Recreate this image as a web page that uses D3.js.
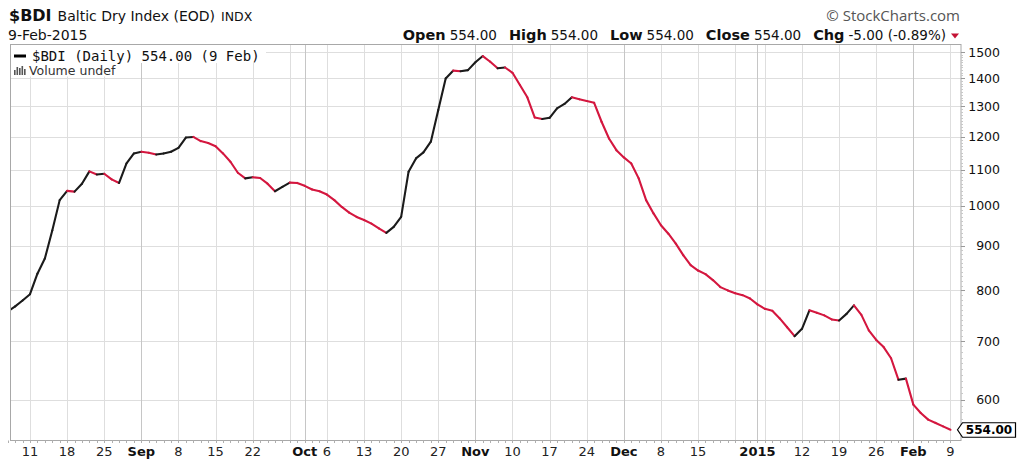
<!DOCTYPE html>
<html><head><meta charset="utf-8">
<script src="https://cdn.jsdelivr.net/npm/d3@7"></script>
<style>body{margin:0;background:#fff}svg{display:block}</style>
</head><body>
<svg id="c" width="1024" height="472"></svg>
<script>
// ---- data ----
const startDate = "2014-08-06";
const endDate = "2015-02-09";
const closedDays = ["2014-12-25","2014-12-26","2014-12-29","2014-12-30","2014-12-31","2015-01-01"];
const closes = [
 757,767,779,792,836,870,937,1015,1040,1038,
 1060,1095,1086,1088,1072,1062,1118,1148,1153,1150,
 1145,1148,1153,1165,1197,1199,1186,1180,1170,1148,
 1123,1091,1075,1078,1076,1060,1039,1051,1063,1062,
 1054,1044,1039,1030,1015,997,982,971,963,954,
 942,931,946,971,1094,1133,1151,1184,1287,1399,
 1428,1426,1430,1460,1484,1462,1437,1440,1420,1375,
 1331,1262,1257,1261,1293,1308,1331,1324,1318,1312,
 1248,1194,1158,1136,1118,1075,1015,980,950,929,
 905,878,855,843,835,822,807,800,794,790,
 783,771,762,758,743,726,709,723,759,754,
 749,741,739,752,769,750,720,702,689,669,
 632,634,592,579,569,564,559,554
];
const yTicks = [600,700,800,900,1000,1100,1200,1300,1400,1500];
const monthLabels = ["2015","Feb","Mar","Apr","May","Jun","Jul","Aug","Sep","Oct","Nov","Dec"];
const headerLabels = ["Open","High","Low","Close","Chg"];
const headerValues = ["554.00","554.00","554.00","554.00","-5.00 (-0.89%)"];
const lastLabel = "554.00";

// ---- build dates ----
const parse = d3.utcParse("%Y-%m-%d"), fmt = d3.utcFormat("%Y-%m-%d");
const closedSet = new Set(closedDays);
const dates = d3.utcDay.range(parse(startDate), d3.utcDay.offset(parse(endDate),1))
  .filter(d => d.getUTCDay()!==0 && d.getUTCDay()!==6 && !closedSet.has(fmt(d)));
const data = dates.map((d,i)=>({date:d, key:fmt(d), v:closes[i]}));

const svg = d3.select("#c");
const L = 10, R = 961, T = 44.5, B = 440.5;
const RED = "#d4173f", BLK = "#1b1b1b";
const SANS = "'DejaVu Sans', Verdana, sans-serif";

const x = d3.scalePoint().domain(data.map(d=>d.key)).range([7.73, 950.45]);
const y = d3.scaleLog().domain([600,1500]).range([399.5, 52]);

// grid lines
const grid = svg.append("g");
yTicks.forEach(t=>{
  grid.append("line").attr("x1",L).attr("x2",R).attr("y1",Math.round(y(t))+0.5).attr("y2",Math.round(y(t))+0.5)
   .attr("stroke","#dedede").attr("stroke-width",1);
});
const weekStarts = [], monthStarts = [];
data.forEach((d,i)=>{
  if(i===0) return;
  const p = data[i-1].date;
  if(d3.utcMonday.floor(d.date).getTime()!==d3.utcMonday.floor(p).getTime()) weekStarts.push(d);
  if(d.date.getUTCMonth()!==p.getUTCMonth()) monthStarts.push(d);
});
const monthKeys = new Set(monthStarts.map(d=>d.key));
weekStarts.forEach(d=>{
  if(monthKeys.has(d.key)) return;
  const xx = Math.round(x(d.key))+0.5;
  grid.append("line").attr("x1",xx).attr("x2",xx).attr("y1",T).attr("y2",B).attr("stroke","#dedede");
});
monthStarts.forEach(d=>{
  const xx = Math.round(x(d.key))+0.5;
  grid.append("line").attr("x1",xx).attr("x2",xx).attr("y1",T).attr("y2",B).attr("stroke","#c6c6c6");
});

// plot border
svg.append("rect").attr("x",L+0.5).attr("y",T).attr("width",R-L-0.5).attr("height",B-T)
  .attr("fill","none").attr("stroke","#a8a8a8");

// day ticks on bottom axis
data.forEach(d=>{
  const xx = Math.round(x(d.key))+0.5;
  svg.append("line").attr("x1",xx).attr("x2",xx).attr("y1",B).attr("y2",B+2.5).attr("stroke","#b0b0b0");
});

// y minor ticks
for(let v=560; v<=1500; v+=10){
  if(y(v)<T||y(v)>B) continue;
  svg.append("line").attr("x1",R).attr("x2",R+2).attr("y1",Math.round(y(v))+0.5).attr("y2",Math.round(y(v))+0.5).attr("stroke","#c8c8c8");
}
yTicks.forEach(t=>{
  svg.append("line").attr("x1",R).attr("x2",R+4).attr("y1",Math.round(y(t))+0.5).attr("y2",Math.round(y(t))+0.5).attr("stroke","#999");
  svg.append("text").attr("x",1000).attr("y",y(t)).attr("dy","0.36em").attr("text-anchor","end")
    .attr("font-family",SANS).attr("font-size",12.5).attr("fill","#111").text(t);
});

// line segments
svg.append("clipPath").attr("id","pc").append("rect").attr("x",L+1).attr("y",T).attr("width",R-L-1).attr("height",B-T);
const lg = svg.append("g").attr("clip-path","url(#pc)");
const line = d3.line().x(d=>x(d.key)).y(d=>y(d.v));
for(let i=1;i<data.length;i++){
  lg.append("path").attr("d", line([data[i-1],data[i]]))
    .attr("fill","none").attr("stroke", data[i].v>=data[i-1].v?BLK:RED)
    .attr("stroke-width",2.1).attr("stroke-linecap","round");
}

// x labels
const xl = svg.append("g");
const monthBoxes = [];
monthStarts.forEach(d=>{
  const t = xl.append("text").attr("x",x(d.key)).attr("y",456).attr("text-anchor","middle")
   .attr("font-family",SANS).attr("font-weight","bold").attr("font-size",13).attr("fill","#111")
   .text(monthLabels[d.date.getUTCMonth()]);
  const w = t.node().getComputedTextLength();
  monthBoxes.push([x(d.key)-w/2, x(d.key)+w/2]);
});
weekStarts.forEach(d=>{
  if(monthKeys.has(d.key)) return;
  const lab = String(d.date.getUTCDate());
  const t = xl.append("text").attr("x",x(d.key)).attr("y",456).attr("text-anchor","middle")
   .attr("font-family",SANS).attr("font-size",13).attr("fill","#222").text(lab);
  const w = t.node().getComputedTextLength();
  const a = x(d.key)-w/2, b = x(d.key)+w/2;
  if(monthBoxes.some(m=> a < m[1]+3 && b > m[0]-3)) t.remove();
});

// last value box
const last = data[data.length-1];
const ly = y(last.v);
svg.append("path").attr("d", `M957.5,${ly} L962.5,${ly-7} L1015.5,${ly-7} L1015.5,${ly+7.5} L962.5,${ly+7.5} Z`)
  .attr("fill","#fff").attr("stroke","#000").attr("stroke-width",1.2);
svg.append("text").attr("x",989).attr("y",ly).attr("dy","0.37em").attr("text-anchor","middle")
  .attr("font-family",SANS).attr("font-weight","bold").attr("font-size",12).attr("fill","#000").text(lastLabel);

// legend
svg.append("rect").attr("x",L+1).attr("y",T+0.5).attr("width",255).attr("height",18).attr("fill","#fff");
svg.append("rect").attr("x",L+1).attr("y",T+18).attr("width",114).attr("height",14).attr("fill","#fff");
svg.append("line").attr("x1",14).attr("x2",26).attr("y1",56).attr("y2",56).attr("stroke","#000").attr("stroke-width",3);
svg.append("text").attr("x",32).attr("y",61).attr("font-family","'DejaVu Sans Mono', monospace").attr("font-size",14)
  .attr("fill","#111").text("$BDI (Daily) 554.00 (9 Feb)");
[[14,70,5],[16.5,67,8],[19,68,7],[21.5,66,9],[24,69,6]].forEach(b=>{
  svg.append("rect").attr("x",b[0]).attr("y",b[1]).attr("width",1.6).attr("height",b[2]).attr("fill","#555");
});
svg.append("text").attr("x",29).attr("y",75).attr("font-family",SANS).attr("font-size",12.5)
  .attr("fill","#333").text("Volume undef");

// title
const t1 = svg.append("text").attr("x",9).attr("y",21).attr("font-family",SANS).attr("font-weight","bold")
  .attr("font-size",16).attr("fill","#111").text("$BDI");
const w1 = t1.node().getComputedTextLength();
const t2 = svg.append("text").attr("x",9+w1+6).attr("y",21).attr("font-family",SANS).attr("font-size",14)
  .attr("fill","#111").text("Baltic Dry Index (EOD)");
const w2 = t2.node().getComputedTextLength();
svg.append("text").attr("x",9+w1+6+w2+6).attr("y",21).attr("font-family",SANS).attr("font-size",12.5)
  .attr("fill","#111").text("INDX");
svg.append("text").attr("x",8).attr("y",40).attr("font-family",SANS).attr("font-size",14)
  .attr("fill","#111").text("9-Feb-2015");
svg.append("text").attr("x",960).attr("y",21).attr("text-anchor","end").attr("font-family","'Open Sans', sans-serif")
  .attr("font-size",15).attr("fill","#555").text("© StockCharts.com");

// header stats (laid out right-to-left ending at triangle)
let cx = 946;
const hg = svg.append("g");
for(let k=headerLabels.length-1;k>=0;k--){
  const v = hg.append("text").attr("y",40).attr("font-family",SANS).attr("font-size",13.5).attr("fill","#111").text(headerValues[k]);
  const wv = v.node().getComputedTextLength();
  cx -= wv; v.attr("x",cx); cx -= 4;
  const lb = hg.append("text").attr("y",40).attr("font-family",SANS).attr("font-weight","bold").attr("font-size",14.5).attr("fill","#111").text(headerLabels[k]);
  const wl = lb.node().getComputedTextLength();
  cx -= wl; lb.attr("x",cx); cx -= 12;
}
svg.append("path").attr("d","M951,33.5 L959,33.5 L955,38.5 Z").attr("fill","#c41235");
</script>
</body></html>
